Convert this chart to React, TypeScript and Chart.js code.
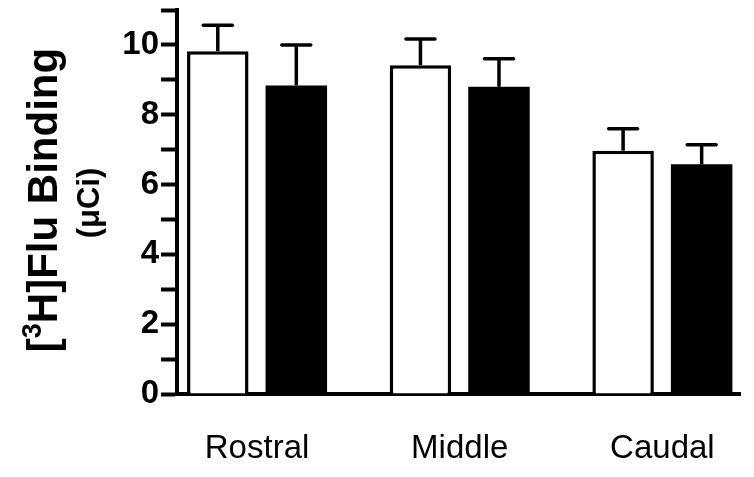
import React, { useEffect, useRef } from 'react';
import { Chart, registerables } from 'chart.js';

Chart.register(...registerables);

// ---- data ----
const categories = ['Rostral', 'Middle', 'Caudal'];
const categoryIndex = [0, 1, 2];
const whiteValues = [9.82, 9.42, 6.97];
const whiteErrors = [0.74, 0.75, 0.63];
const blackValues = [8.84, 8.8, 6.58];
const blackErrors = [1.16, 0.8, 0.56];
const yMin = 0;
const yMax = 11;
const yStep = 1;
const yLabelEvery = 2;
const titleMainPre = '[';
const titleSup = '3';
const titleMainPost = 'H]Flu Binding';
const titleUnit = '(\u03BCCi)';

const FONT = "'Liberation Sans', Arial, sans-serif";

const errorBarPlugin = {
  id: 'errorBars',
  afterDatasetsDraw(chart: any) {
    const ctx = chart.ctx;
    const yScale = chart.scales.y;
    const errs = [whiteErrors, blackErrors];
    const vals = [whiteValues, blackValues];
    ctx.save();
    ctx.strokeStyle = '#000';
    ctx.lineWidth = 3.5;
    chart.data.datasets.forEach((ds: any, di: number) => {
      const meta = chart.getDatasetMeta(di);
      meta.data.forEach((el: any, i: number) => {
        const top = yScale.getPixelForValue(vals[di][i] + errs[di][i]);
        const x = el.x;
        ctx.lineCap = 'butt';
        ctx.beginPath();
        ctx.moveTo(x, el.y);
        ctx.lineTo(x, top);
        ctx.stroke();
        ctx.lineCap = 'round';
        ctx.beginPath();
        ctx.moveTo(x - 14.5, top);
        ctx.lineTo(x + 14.5, top);
        ctx.stroke();
      });
    });
    ctx.restore();
  },
};

const titlePlugin = {
  id: 'yTitle',
  afterDraw(chart: any) {
    const ctx = chart.ctx;
    ctx.save();
    ctx.fillStyle = '#000';
    ctx.textBaseline = 'alphabetic';
    ctx.textAlign = 'left';
    // main title
    ctx.translate(57, 200);
    ctx.rotate(-Math.PI / 2);
    const mainFont = `bold 42px ${FONT}`;
    const supFont = `bold 27px ${FONT}`;
    ctx.font = mainFont;
    const w1 = ctx.measureText(titleMainPre).width;
    const w3 = ctx.measureText(titleMainPost).width;
    ctx.font = supFont;
    const w2 = ctx.measureText(titleSup).width;
    const total = w1 + w2 + w3;
    let x = -total / 2;
    ctx.font = mainFont;
    ctx.fillText(titleMainPre, x, 0);
    x += w1;
    ctx.font = supFont;
    ctx.fillText(titleSup, x, -16);
    x += w2;
    ctx.font = mainFont;
    ctx.fillText(titleMainPost, x, 0);
    ctx.restore();

    ctx.save();
    ctx.fillStyle = '#000';
    ctx.textAlign = 'center';
    ctx.textBaseline = 'alphabetic';
    ctx.translate(99, 203);
    ctx.rotate(-Math.PI / 2);
    ctx.font = `bold 31px ${FONT}`;
    ctx.fillText(titleUnit, 0, 0);
    ctx.restore();
  },
};

export default function App() {
  const ref = useRef<HTMLCanvasElement | null>(null);
  useEffect(() => {
    if (!ref.current) return;
    const chart = new Chart(ref.current, {
      type: 'bar',
      data: {
        datasets: [
          {
            label: 'white',
            data: categoryIndex.map((x, i) => ({ x, y: whiteValues[i] })),
            backgroundColor: '#ffffff',
            borderColor: '#000000',
            borderWidth: 3.5,
            borderSkipped: 'start',
          },
          {
            label: 'black',
            data: categoryIndex.map((x, i) => ({ x, y: blackValues[i] })),
            backgroundColor: '#000000',
            borderColor: '#000000',
            borderWidth: 0,
          },
        ],
      },
      options: {
        animation: false,
        responsive: false,
        devicePixelRatio: 1,
        categoryPercentage: 0.775,
        barPercentage: 0.783,
        layout: { padding: { top: 10, right: 14, left: 0, bottom: 0 } },
        plugins: { legend: { display: false }, tooltip: { enabled: false } },
        scales: {
          x: {
            type: 'linear',
            offset: false,
            min: -0.395,
            max: 2.383,
            afterBuildTicks: (scale: any) => {
              scale.ticks = categoryIndex.map((v) => ({ value: v }));
            },
            afterFit: (scale: any) => {
              scale.height = 83;
              scale.paddingLeft = 0;
              scale.paddingRight = 0;
            },
            grid: { display: false, drawTicks: false, offset: false },
            border: { display: true, width: 4, color: '#000' },
            ticks: {
              autoSkip: false,
              maxRotation: 0,
              padding: 35,
              color: '#000',
              font: { family: FONT, size: 33, weight: 'normal' },
              callback: (v: any) => categories[Math.round(Number(v))] ?? '',
            },
          },
          y: {
            min: yMin,
            max: yMax,
            afterFit: (scale: any) => {
              scale.width = 177;
              scale.paddingTop = 0;
              scale.paddingBottom = 0;
            },
            grid: {
              display: true,
              drawOnChartArea: false,
              drawTicks: true,
              tickLength: 16,
              tickWidth: 4,
              tickColor: '#000',
            },
            border: { display: true, width: 4, color: '#000' },
            ticks: {
              stepSize: yStep,
              autoSkip: false,
              padding: 2,
              color: '#000',
              font: { family: FONT, size: 33, weight: 'bold' },
              callback: (v: any) => (Number(v) % yLabelEvery === 0 ? String(v) : ''),
            },
          },
        },
      },
      plugins: [errorBarPlugin, titlePlugin],
    } as any);
    return () => chart.destroy();
  }, []);
  return (
    <div style={{ position: 'absolute', left: 0, top: 0, width: 754, height: 477, background: '#fff' }}>
      <canvas ref={ref} width={754} height={477} style={{ display: 'block' }} />
    </div>
  );
}
